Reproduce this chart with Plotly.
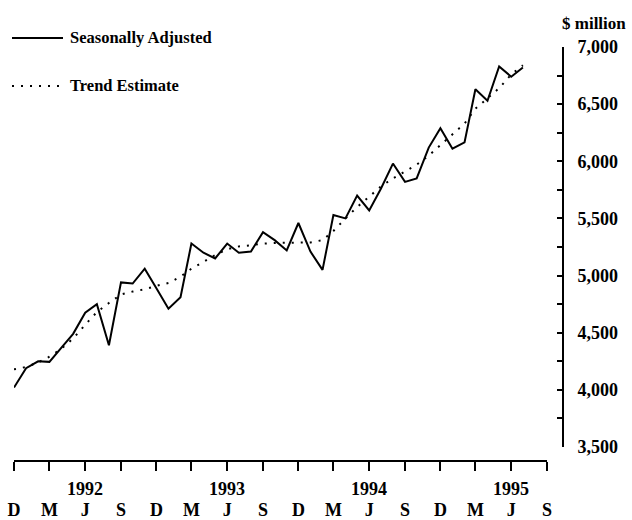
import plotly.graph_objects as go
import pandas as pd

months = pd.date_range("1991-12-01", "1995-07-01", freq="MS").strftime("%Y-%m-%d").tolist()

seasonally_adjusted = [
    4020, 4190, 4250, 4245, 4370, 4490, 4675, 4750, 4390, 4940, 4930, 5060,
    4890, 4710, 4810, 5280, 5200, 5150, 5280, 5200, 5210, 5380, 5310, 5220,
    5460, 5210, 5050, 5530, 5500, 5700, 5570, 5760, 5980, 5820, 5850, 6120,
    6290, 6110, 6165, 6630, 6530, 6830, 6740, 6820,
]

trend_estimate = [
    4180, 4200, 4240, 4290, 4360, 4450, 4570, 4680, 4760, 4835, 4860, 4880,
    4910, 4935, 4990, 5060, 5120, 5180, 5230, 5255, 5265, 5280, 5285, 5285,
    5285, 5290, 5310, 5390, 5500, 5600, 5690, 5780, 5850, 5910, 5970, 6050,
    6140, 6240, 6330, 6460, 6550, 6640, 6760, 6840,
]

tick_dates = pd.date_range("1991-12-01", "1995-09-01", freq="3MS").strftime("%Y-%m-%d").tolist()
tick_labels = ["D", "M", "J", "S"] * 4
year_labels = ["1992", "1993", "1994", "1995"]
year_dates = ["1992-06-01", "1993-06-01", "1994-06-01", "1995-06-01"]

FONT = "Liberation Serif, Times New Roman, serif"
fig = go.Figure()
fig.add_trace(go.Scatter(x=months, y=trend_estimate, mode="lines", name="Trend Estimate",
                         line=dict(color="black", width=2, dash="2px,7px")))
fig.add_trace(go.Scatter(x=months, y=seasonally_adjusted, mode="lines", name="Seasonally Adjusted",
                         line=dict(color="black", width=2)))

W, H = 632, 520
ml, mr, mt, mb = 14, 69, 47, 59
pw = W - ml - mr
ph = H - mt - mb

fig.update_layout(
    width=W, height=H,
    margin=dict(l=ml, r=mr, t=mt, b=mb, pad=0, autoexpand=False),
    paper_bgcolor="white", plot_bgcolor="white",
    showlegend=False,
    font=dict(family=FONT, size=17, color="black"),
    xaxis=dict(
        type="date",
        domain=[0, (547 - 14) / pw],
        range=["1991-12-01", "1995-09-01"],
        anchor="free", position=0,
        automargin=False,
        showgrid=False, zeroline=False,
        showline=True, linecolor="black", linewidth=2,
        ticks="outside", ticklen=9, tickwidth=2, tickcolor="black",
        tickvals=tick_dates, ticktext=tick_labels,
        tickfont=dict(family=FONT, size=18, color="black", weight="bold"),
        ticklabelstandoff=23,
    ),
    yaxis=dict(
        domain=[(461 - 447) / ph, 1],
        range=[3500, 7000],
        side="right", anchor="free", position=1,
        automargin=False,
        showgrid=False, zeroline=False,
        showline=True, linecolor="black", linewidth=2,
        ticks="inside", ticklen=5, tickwidth=2, tickcolor="black",
        dtick=500, tick0=3500, tickformat=",d",
        tickfont=dict(family=FONT, size=18, color="black", weight="bold"),
        ticklabelstandoff=10,
        minor=dict(dtick=250, ticks="inside", ticklen=5, tickwidth=2, tickcolor="black"),
    ),
)

def px_x(x):
    return (x - ml) / pw

def px_y(y):
    return (H - mb - y) / ph

# Year labels
for d, lab in zip(year_dates, year_labels):
    fig.add_annotation(x=d, y=0, xref="x", yref="paper", text=lab, showarrow=False,
                       yanchor="middle", yshift=-28,
                       font=dict(family=FONT, size=18, color="black", weight="bold"))

# Unit label
fig.add_annotation(x=px_x(560), y=px_y(24), xref="paper", yref="paper", text="$ million",
                   showarrow=False, xanchor="left", yanchor="middle",
                   font=dict(family=FONT, size=17, color="black", weight="bold"))

# Manual legend
fig.add_shape(type="line", xref="paper", yref="paper", x0=px_x(12), x1=px_x(63),
              y0=px_y(38), y1=px_y(38), line=dict(color="black", width=2))
fig.add_shape(type="line", xref="paper", yref="paper", x0=px_x(12), x1=px_x(60),
              y0=px_y(86), y1=px_y(86), line=dict(color="black", width=2, dash="2px,7px"))
fig.add_annotation(x=px_x(68), y=px_y(38), xref="paper", yref="paper", text="Seasonally Adjusted",
                   showarrow=False, xanchor="left", yanchor="middle",
                   font=dict(family=FONT, size=16.5, color="black", weight="bold"))
fig.add_annotation(x=px_x(68), y=px_y(86), xref="paper", yref="paper", text="Trend Estimate",
                   showarrow=False, xanchor="left", yanchor="middle",
                   font=dict(family=FONT, size=16.5, color="black", weight="bold"))

fig.write_html(
    "out.html",
    config={"displayModeBar": False},
    post_script="document.body.style.margin='0';document.body.style.overflow='hidden';",
)
